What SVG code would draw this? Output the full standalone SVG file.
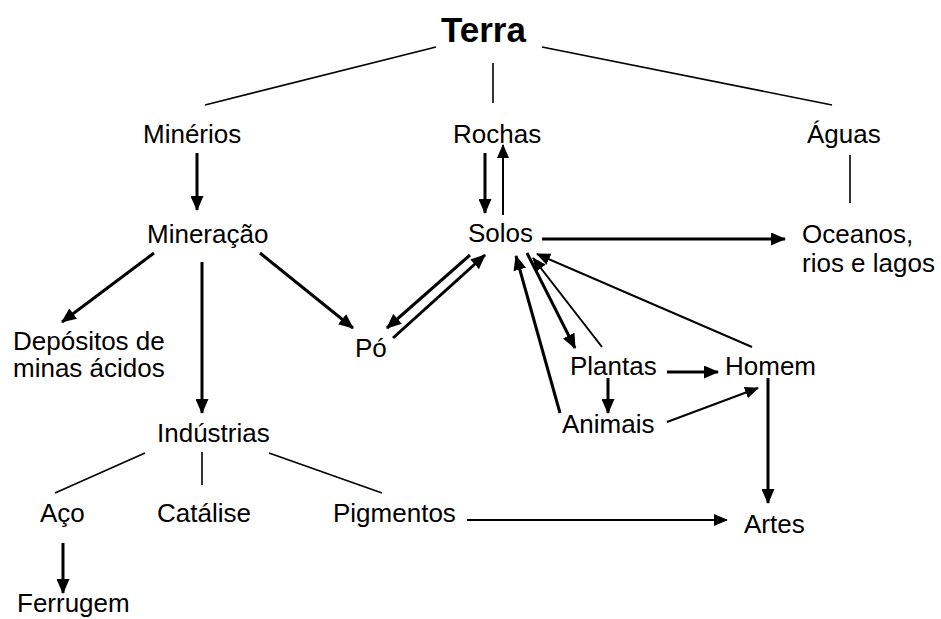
<svg xmlns="http://www.w3.org/2000/svg" width="941" height="619" viewBox="0 0 941 619">
<style>
text { font-family: "Liberation Sans", Arial, sans-serif; font-size: 26px; fill: #000; }
.title { font-weight: bold; font-size: 35px; }
.plain { stroke: #000; stroke-width: 1.6; fill: none; }
.thick { stroke: #000; stroke-width: 3; fill: none; marker-end: url(#ah); }
.thin { stroke: #000; stroke-width: 2; fill: none; marker-end: url(#ahs); }
</style>
<defs>
<marker id="ah" markerUnits="userSpaceOnUse" markerWidth="15" markerHeight="13" refX="14" refY="6.5" orient="auto">
<path d="M0,0 L15,6.5 L0,13 z" fill="#000"/>
</marker>
<marker id="ahs" markerUnits="userSpaceOnUse" markerWidth="14" markerHeight="12" refX="13" refY="6" orient="auto">
<path d="M0,0 L14,6 L0,12 z" fill="#000"/>
</marker>
</defs>
<rect width="941" height="619" fill="#fff"/>
<g id="connectors">
<line class="plain" x1="436" y1="47" x2="205" y2="105"/>
<line class="plain" x1="542" y1="47" x2="832" y2="105"/>
<line class="plain" x1="493" y1="63" x2="493" y2="103"/>
<line class="plain" x1="850" y1="155" x2="850" y2="203"/>
<line class="thick" x1="197" y1="153" x2="197" y2="210"/>
<line class="thick" x1="485" y1="153" x2="485" y2="213"/>
<line class="thin" x1="503" y1="215" x2="503" y2="145"/>
<line class="thick" x1="542" y1="239" x2="785" y2="239"/>
<line class="thick" x1="154" y1="253" x2="62" y2="322"/>
<line class="thick" x1="202" y1="262" x2="202" y2="413"/>
<line class="thick" x1="260" y1="253" x2="353" y2="328"/>
<line class="thick" x1="470" y1="255" x2="387" y2="328"/>
<line class="thick" x1="393" y1="338" x2="485" y2="255"/>
<line class="thick" x1="560" y1="413" x2="516" y2="256"/>
<line class="thick" x1="527" y1="253" x2="575" y2="348"/>
<line class="thin" x1="602" y1="347" x2="533" y2="258"/>
<line class="thin" x1="752" y1="347" x2="537" y2="254"/>
<line class="thick" x1="667" y1="372" x2="718" y2="372"/>
<line class="thick" x1="608" y1="378" x2="608" y2="413"/>
<line class="thin" x1="667" y1="422" x2="758" y2="388"/>
<line class="thick" x1="768" y1="378" x2="768" y2="503"/>
<line class="thin" x1="467" y1="520" x2="727" y2="520"/>
<line class="plain" x1="145" y1="453" x2="55" y2="493"/>
<line class="plain" x1="202" y1="452" x2="202" y2="485"/>
<line class="plain" x1="269" y1="453" x2="382" y2="493"/>
<line class="thick" x1="63" y1="543" x2="63" y2="593"/>
</g>
<g id="terra"><text class="title" x="441" y="42">Terra</text></g>
<g id="minerios"><text x="143" y="143">Minérios</text></g>
<g id="rochas"><text x="453" y="143">Rochas</text></g>
<g id="aguas"><text x="807" y="143">Águas</text></g>
<g id="mineracao"><text x="147" y="243">Mineração</text></g>
<g id="solos"><text x="468" y="242">Solos</text></g>
<g id="oceanos"><text x="802" y="243">Oceanos,</text><text x="802" y="272">rios e lagos</text></g>
<g id="depositos"><text x="13" y="350">Depósitos de</text><text x="13" y="377">minas ácidos</text></g>
<g id="po"><text x="355" y="357">Pó</text></g>
<g id="plantas"><text x="570" y="375">Plantas</text></g>
<g id="homem"><text x="725" y="375">Homem</text></g>
<g id="animais"><text x="562" y="433">Animais</text></g>
<g id="industrias"><text x="157" y="442">Indústrias</text></g>
<g id="aco"><text x="40" y="522">Aço</text></g>
<g id="catalise"><text x="157" y="522">Catálise</text></g>
<g id="pigmentos"><text x="333" y="522">Pigmentos</text></g>
<g id="artes"><text x="744" y="533">Artes</text></g>
<g id="ferrugem"><text x="17" y="612">Ferrugem</text></g>
</svg>
